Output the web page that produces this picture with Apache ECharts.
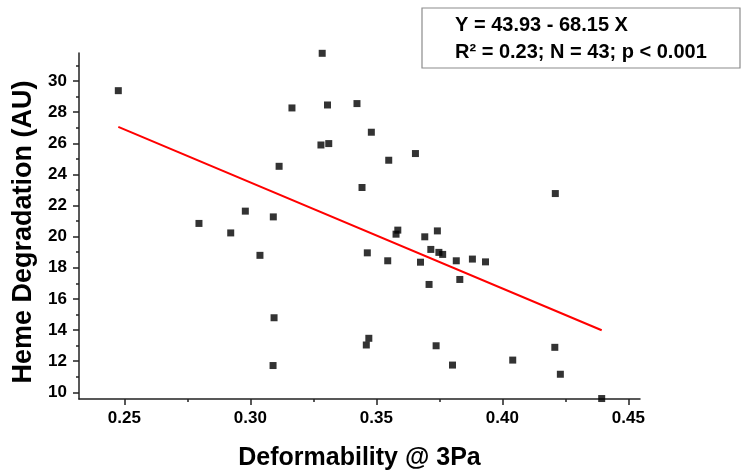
<!DOCTYPE html>
<html>
<head>
<meta charset="utf-8">
<script src="https://cdn.jsdelivr.net/npm/echarts@6/dist/echarts.min.js"></script>
<style>
  html, body { margin: 0; padding: 0; background: #fff; }
  #main { width: 741px; height: 476px; }
</style>
</head>
<body>
<div id="main"></div>
<script>
// measured points (deformability, heme degradation)
var deformability = [0.2476, 0.2796, 0.2922, 0.2980, 0.3038, 0.3091, 0.3094, 0.3090, 0.3114, 0.3165,
  0.3285, 0.3280, 0.3306, 0.3311, 0.3423, 0.3443, 0.3464, 0.3470, 0.3460, 0.3480,
  0.3545, 0.3549, 0.3578, 0.3585, 0.3655, 0.3675, 0.3692, 0.3709, 0.3716, 0.3737,
  0.3742, 0.3748, 0.3763, 0.3802, 0.3817, 0.3831, 0.3881, 0.3933, 0.4041, 0.4208,
  0.4210, 0.4230, 0.4394];
var hemeDegradation = [29.38, 20.85, 20.24, 21.64, 18.80, 21.27, 14.79, 11.72, 24.52, 28.27,
  31.78, 25.89, 28.46, 25.98, 28.55, 23.16, 18.96, 13.47, 13.04, 26.71,
  18.45, 24.91, 20.16, 20.42, 25.34, 18.36, 19.99, 16.93, 19.18, 12.99,
  20.37, 18.99, 18.86, 11.75, 18.45, 17.25, 18.56, 18.38, 12.07, 12.89,
  22.77, 11.16, 9.60];

// linear fit reported on the figure
var intercept = 43.93;
var slope = -68.15;

var xTicks = [0.25, 0.30, 0.35, 0.40, 0.45];
var xMinorTicks = [0.275, 0.325, 0.375, 0.425];
var yTicks = [10, 12, 14, 16, 18, 20, 22, 24, 26, 28, 30];
var yMinorTicks = [11, 13, 15, 17, 19, 21, 23, 25, 27, 29, 31];

var fitLabel = 'Y = 43.93 - 68.15 X';
var statsLabel = 'R\u00b2 = 0.23; N = 43; p < 0.001';

var FONT = "'Liberation Sans', Arial, sans-serif";

var points = deformability.map(function (x, i) { return [x, hemeDegradation[i]]; });
var xLo = Math.min.apply(null, deformability);
var xHi = Math.max.apply(null, deformability);
var fitLine = [[xLo, intercept + slope * xLo], [xHi, intercept + slope * xHi]];

var chart = echarts.init(document.getElementById('main'));

var axisLineStyle = { color: '#222', width: 1.5 };

var option = {
  animation: false,
  backgroundColor: '#fff',
  grid: { left: 79, right: 101, top: 53, bottom: 77 },
  xAxis: [{
    type: 'value',
    min: 0.232,
    max: 0.4546,
    name: 'Deformability @ 3Pa',
    nameLocation: 'middle',
    nameGap: 47,
    nameTextStyle: { fontFamily: FONT, fontWeight: 'bold', fontSize: 25, color: '#000' },
    axisLine: { lineStyle: axisLineStyle },
    axisTick: { customValues: xTicks, length: 6, lineStyle: axisLineStyle },
    axisLabel: {
      customValues: xTicks,
      margin: 11,
      fontFamily: FONT, fontWeight: 'bold', fontSize: 17, color: '#000',
      formatter: function (v) { return v.toFixed(2); }
    },
    splitLine: { show: false }
  }, {
    type: 'value',
    min: 0.232,
    max: 0.4546,
    position: 'bottom',
    axisLine: { show: false },
    axisTick: { customValues: xMinorTicks, length: 3, lineStyle: axisLineStyle },
    axisLabel: { show: false },
    splitLine: { show: false }
  }],
  yAxis: [{
    type: 'value',
    min: 9.57,
    max: 31.8,
    name: 'Heme Degradation (AU)',
    nameLocation: 'middle',
    nameGap: 40,
    nameTextStyle: {
      fontFamily: FONT, fontWeight: 'bold', fontSize: 27, color: '#000',
      padding: [0, 12, 0, 0]
    },
    axisLine: { show: true, lineStyle: axisLineStyle },
    axisTick: { show: true, customValues: yTicks, length: 6, lineStyle: axisLineStyle },
    axisLabel: {
      customValues: yTicks,
      margin: 12,
      fontFamily: FONT, fontWeight: 'bold', fontSize: 17, color: '#000'
    },
    splitLine: { show: false }
  }, {
    type: 'value',
    min: 9.57,
    max: 31.8,
    position: 'left',
    axisLine: { show: false },
    axisTick: { show: true, customValues: yMinorTicks, length: 3, lineStyle: axisLineStyle },
    axisLabel: { show: false },
    splitLine: { show: false }
  }],
  series: [{
    type: 'scatter',
    data: points,
    symbol: 'rect',
    symbolSize: 7,
    clip: false,
    itemStyle: { color: '#000' }
  }, {
    type: 'line',
    data: fitLine,
    symbol: 'none',
    lineStyle: { color: '#ff0000', width: 2 }
  }],
  graphic: [{
    type: 'rect',
    shape: { x: 422, y: 8, width: 318, height: 60 },
    style: { fill: '#fff', stroke: '#8c8c8c', lineWidth: 1.2 }
  }, {
    type: 'text',
    x: 455, y: 25,
    style: { text: fitLabel, font: 'bold 20px ' + FONT, fill: '#000', textVerticalAlign: 'middle' }
  }, {
    type: 'text',
    x: 455, y: 52,
    style: { text: statsLabel, font: 'bold 20px ' + FONT, fill: '#000', textVerticalAlign: 'middle' }
  }]
};

chart.setOption(option);
</script>
</body>
</html>
